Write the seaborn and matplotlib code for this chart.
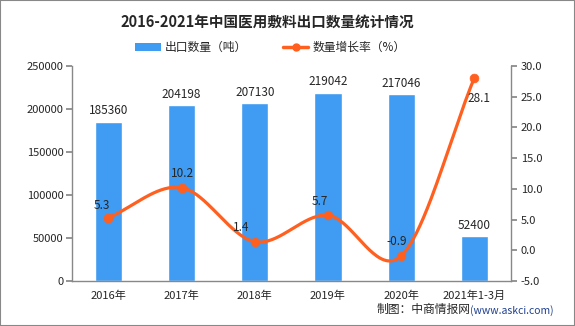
import numpy as np
import pandas as pd
import matplotlib
matplotlib.use("Agg")
import matplotlib.pyplot as plt
import seaborn as sns
from matplotlib.patches import Rectangle
from matplotlib.lines import Line2D
from matplotlib.patches import Patch

categories = ["2016年", "2017年", "2018年", "2019年", "2020年", "2021年1-3月"]
export_volume = [185360, 204198, 207130, 219042, 217046, 52400]
growth_rate = [5.3, 10.2, 1.4, 5.7, -0.9, 28.1]
left_ticks = [0, 50000, 100000, 150000, 200000, 250000]
right_ticks = [-5, 0, 5, 10, 15, 20, 25, 30]

BAR_C = "#3F9CF2"
LINE_C = "#FF5F1F"

sns.set_theme(style="white")
plt.rcParams['font.family'] = ['Noto Sans CJK SC', 'DejaVu Sans']
plt.rcParams['axes.unicode_minus'] = False

fig = plt.figure(figsize=(5.75, 3.26), dpi=100)
fig.patches.append(Rectangle((0, 0), 1, 1, transform=fig.transFigure,
                             fill=False, edgecolor="#888888", linewidth=1.5))
ax = fig.add_axes([0.1247, 0.138, 0.764, 0.6595])

df = pd.DataFrame({"cat": categories, "vol": export_volume})
sns.barplot(data=df, x="cat", y="vol", color=BAR_C, width=0.37, ax=ax,
            saturation=1)
ax.set_xlim(-0.5, len(categories) - 0.5)
ax.set_ylim(0, 250000)
ax.set_yticks(left_ticks)
ax.set_yticklabels([str(v) for v in left_ticks], fontsize=8)
ax.set_xlabel("")
ax.set_ylabel("")
ax.set_xticks(range(len(categories)))
ax.set_xticklabels(categories, fontsize=8)
ax.tick_params(axis='x', length=0, pad=7)
ax.set_xticks(np.arange(-0.5, len(categories), 1.0), minor=True)
ax.tick_params(axis='x', which='minor', length=4, color="#888888", direction='out')
ax.tick_params(axis='y', length=4, color="#888888", direction='out', pad=2)
for s in ["top", "right"]:
    ax.spines[s].set_visible(False)
for s in ["left", "bottom"]:
    ax.spines[s].set_color("#888888")
    ax.spines[s].set_linewidth(1)

for i, v in enumerate(export_volume):
    ax.annotate(str(v), (i, v), xytext=(0, 3), textcoords="offset points",
                ha="center", va="bottom", fontsize=8.5)

ax2 = ax.twinx()
ax2.set_ylim(-5, 30)
ax2.set_yticks(right_ticks)
ax2.set_yticklabels([f"{v:.1f}" for v in right_ticks], fontsize=8)
ax2.tick_params(axis='y', length=4, color="#888888", direction='out', pad=3)
for s in ["top", "left", "bottom"]:
    ax2.spines[s].set_visible(False)
ax2.spines["right"].set_color("#888888")
ax2.spines["right"].set_linewidth(1)

# smooth curve (Catmull-Rom through the data points)
xs = np.arange(len(growth_rate), dtype=float)
ys = np.array(growth_rate, dtype=float)
px = np.concatenate([[2 * xs[0] - xs[1]], xs, [2 * xs[-1] - xs[-2]]])
py = np.concatenate([[2 * ys[0] - ys[1]], ys, [2 * ys[-1] - ys[-2]]])
cx, cy = [], []
t = np.linspace(0, 1, 40)
for k in range(1, len(px) - 2):
    p0, p1, p2, p3 = px[k-1], px[k], px[k+1], px[k+2]
    q0, q1, q2, q3 = py[k-1], py[k], py[k+1], py[k+2]
    def cr(a0, a1, a2, a3):
        return 0.5 * ((2 * a1) + (-a0 + a2) * t + (2*a0 - 5*a1 + 4*a2 - a3) * t**2
                      + (-a0 + 3*a1 - 3*a2 + a3) * t**3)
    cx.extend(cr(p0, p1, p2, p3))
    cy.extend(cr(q0, q1, q2, q3))
sns.lineplot(x=cx, y=cy, ax=ax2, color=LINE_C, linewidth=2.3, sort=False,
             estimator=None)
sns.scatterplot(x=xs, y=ys, ax=ax2, color=LINE_C, s=40, edgecolor=LINE_C,
                zorder=5)

offsets = [(-5, 9), (1, 10), (-10, 10), (-6, 10), (-3, 10), (3, -15)]
for i, v in enumerate(growth_rate):
    dx, dy = offsets[i]
    ax2.annotate(f"{v}", (i, v), xytext=(dx, dy), textcoords="offset points",
                 ha="center", va="center", fontsize=8.5)

fig.text(0.465, 0.935, "2016-2021年中国医用敷料出口数量统计情况", ha="center",
         va="center", fontsize=10.5, fontweight="bold")
handles = [Patch(facecolor=BAR_C, edgecolor="none"),
           Line2D([0], [0], color=LINE_C, lw=2.5, marker="o", markersize=5)]
fig.legend(handles, ["出口数量（吨）", "数量增长率（%）"], loc="center",
           bbox_to_anchor=(0.47, 0.855), ncol=2, frameon=False, fontsize=8.5,
           handlelength=2.2, columnspacing=3, handletextpad=0.3)

fig.text(0.655, 0.03, "制图：中商情报网", ha="left", va="bottom", fontsize=8.5)
fig.text(0.818, 0.03, "(www.askci.com)", ha="left", va="bottom", fontsize=7.5,
         color="#1F3F8F")

fig.savefig("out.png", dpi=100)
